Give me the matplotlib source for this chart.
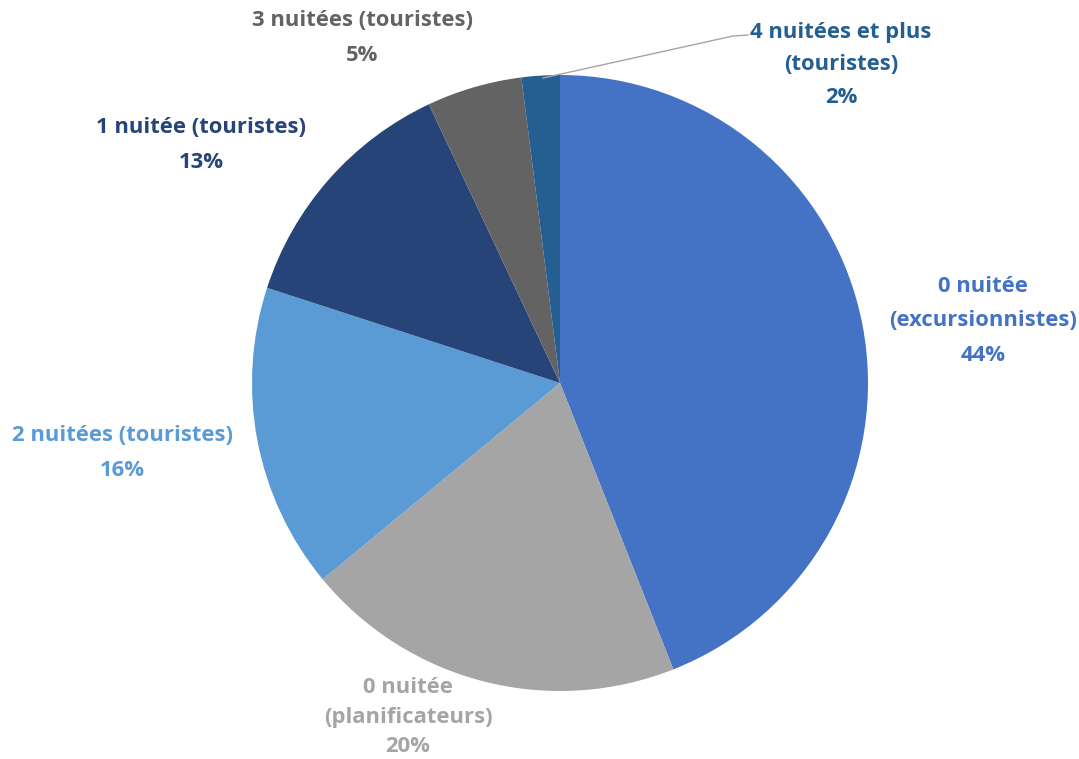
import matplotlib.pyplot as plt

# Répartition des visiteurs selon le nombre de nuitées
labels = ["0 nuitée\n(excursionnistes)", "0 nuitée\n(planificateurs)",
          "2 nuitées (touristes)", "1 nuitée (touristes)",
          "3 nuitées (touristes)", "4 nuitées et plus\n(touristes)"]
shares = [44, 20, 16, 13, 5, 2]
colors = ["#4472C4", "#A5A5A5", "#5B9BD5", "#264478", "#636363", "#255E91"]

# label anchors (pixel coordinates, y measured from top)
label_pos = [(983, 321), (408, 717), (122, 453), (201, 145), (362, 38), (841, 65)]
spacing = [1.82, 1.55, 1.82, 1.82, 1.9, 1.71]

W, H = 1079, 759
fig = plt.figure(figsize=(W / 100, H / 100), dpi=100)
ax = fig.add_axes([0, 0, 1, 1])

cx, cy, r = 560, H - 383, 308
ax.pie(shares, colors=colors, startangle=90, counterclock=False,
       center=(cx, cy), radius=r, frame=True,
       wedgeprops=dict(linewidth=0))
ax.set_xlim(0, W)
ax.set_ylim(0, H)
ax.set_aspect("equal")
ax.axis("off")

for lab, val, col, (x, y), sp in zip(labels, shares, colors, label_pos, spacing):
    ax.text(x, H - y, f"{lab}\n{val}%", ha="center", va="center",
            color=col, fontsize=15.8, fontweight="bold", family="Open Sans",
            linespacing=sp)

# leader line for the small slice
ax.plot([543, 733, 748], [H - 78, H - 36, H - 35], color="#A5A5A5", lw=1)

fig.savefig("out.png", dpi=100)
